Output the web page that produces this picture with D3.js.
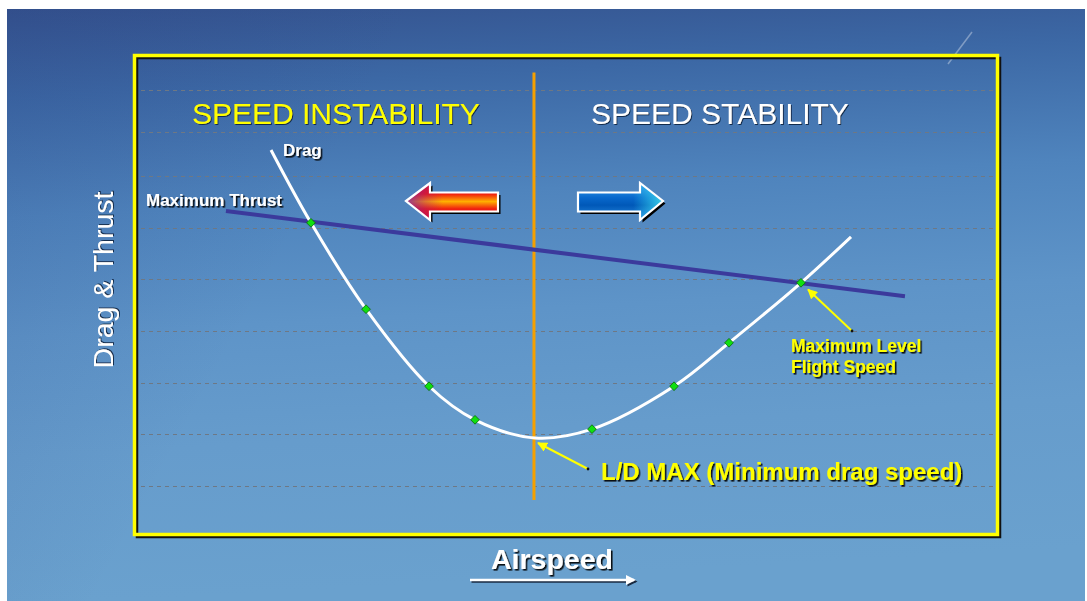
<!DOCTYPE html>
<html>
<head>
<meta charset="utf-8">
<script src="https://cdn.jsdelivr.net/npm/d3@7"></script>
<style>
html,body{margin:0;padding:0;background:#fff;}
svg{display:block;}
text{font-family:"Liberation Sans",Arial,sans-serif;}
</style>
</head>
<body>
<svg id="chart" width="1087" height="601"></svg>
<script>
// ---- data ----
const dragX = [15.76, 20.39, 26.77, 34.07, 39.40, 46.35, 52.95, 62.46, 68.83, 77.17, 82.97];
const dragY = [7.50, 6.09, 4.42, 2.93, 2.28, 1.93, 2.10, 2.93, 3.77, 4.93, 5.82];
const markerIdx = [1, 2, 3, 4, 6, 7, 8, 9];
const thrustX = [10.54, 89.22];
const thrustY = [6.32, 4.67];
const ldMaxX = 46.23;
const ldMaxYRange = [0.73, 9.0];
const gridValues = [1, 2, 3, 4, 5, 6, 7, 7.85, 8.66];
const regionLabels = ["SPEED INSTABILITY", "SPEED STABILITY"];
const axisLabels = ["Airspeed", "Drag & Thrust"];

const svg = d3.select("#chart");
const W = 1087, H = 601;

const x = d3.scaleLinear().domain([0, 100]).range([135, 998]);
const y = d3.scaleLinear().domain([0, 10]).range([537.7, 20.7]);

const defs = svg.append("defs");
// background gradient
const bg = defs.append("linearGradient").attr("id","bg").attr("x1",0).attr("y1",0).attr("x2",0.1).attr("y2",1);
[["0%","#34528e"],["15%","#3c68a5"],["35%","#4f84bd"],["55%","#5e94c8"],["75%","#669ccc"],["100%","#6aa1ce"]]
  .forEach(s=>bg.append("stop").attr("offset",s[0]).attr("stop-color",s[1]));
const bg2 = defs.append("linearGradient").attr("id","bg2").attr("x1",0).attr("y1",0).attr("x2",1).attr("y2",0.3);
bg2.append("stop").attr("offset","0%").attr("stop-color","#2a3f80").attr("stop-opacity",0.18);
bg2.append("stop").attr("offset","35%").attr("stop-color","#2a3f80").attr("stop-opacity",0);

// shadow filters
const f = defs.append("filter").attr("id","sh").attr("x","-10%").attr("y","-30%").attr("width","130%").attr("height","170%");
f.append("feDropShadow").attr("dx",1.6).attr("dy",1.6).attr("stdDeviation",0.4).attr("flood-color","#000").attr("flood-opacity",0.9);
const f2 = defs.append("filter").attr("id","sh2").attr("x","-10%").attr("y","-30%").attr("width","130%").attr("height","170%");
f2.append("feDropShadow").attr("dx",1).attr("dy",1).attr("stdDeviation",0.6).attr("flood-color","#102040").attr("flood-opacity",0.9);

// red arrow gradients
const rg = defs.append("linearGradient").attr("id","rv").attr("x1",0).attr("y1",0).attr("x2",0).attr("y2",1);
[["0%","#d0103a"],["30%","#f02010"],["50%","#ffb000"],["70%","#f02010"],["100%","#d0103a"]].forEach(s=>rg.append("stop").attr("offset",s[0]).attr("stop-color",s[1]));
const rh = defs.append("linearGradient").attr("id","rh").attr("x1",0).attr("y1",0).attr("x2",1).attr("y2",0);
rh.append("stop").attr("offset","0%").attr("stop-color","#8020a8").attr("stop-opacity",0.85);
rh.append("stop").attr("offset","22%").attr("stop-color","#a01080").attr("stop-opacity",0.35);
rh.append("stop").attr("offset","40%").attr("stop-color","#a01080").attr("stop-opacity",0);
// blue arrow gradients
const bv = defs.append("linearGradient").attr("id","bv").attr("x1",0).attr("y1",0).attr("x2",0).attr("y2",1);
[["0%","#3aa0ee"],["40%","#0868cc"],["60%","#0058b8"],["100%","#2a8ce0"]].forEach(s=>bv.append("stop").attr("offset",s[0]).attr("stop-color",s[1]));
const bh = defs.append("linearGradient").attr("id","bh").attr("x1",0).attr("y1",0).attr("x2",1).attr("y2",0);
bh.append("stop").attr("offset","65%").attr("stop-color","#30d8f0").attr("stop-opacity",0);
bh.append("stop").attr("offset","100%").attr("stop-color","#40e0f0").attr("stop-opacity",0.85);

// markers for annotation arrows
defs.append("marker").attr("id","ya").attr("viewBox","0 0 10 10").attr("refX",9).attr("refY",5)
  .attr("markerWidth",5).attr("markerHeight",5).attr("orient","auto")
  .append("path").attr("d","M0,0L10,5L0,10z").attr("fill","#ffff00");
defs.append("marker").attr("id","wa").attr("viewBox","0 0 10 10").attr("refX",8).attr("refY",5)
  .attr("markerWidth",5).attr("markerHeight",4).attr("orient","auto")
  .append("path").attr("d","M0,0L10,5L0,10z").attr("fill","#ffffff");
defs.append("marker").attr("id","ka").attr("viewBox","0 0 10 10").attr("refX",8).attr("refY",5)
  .attr("markerWidth",5).attr("markerHeight",4).attr("orient","auto")
  .append("path").attr("d","M0,0L10,5L0,10z").attr("fill","#1a2a40");

// background
svg.append("rect").attr("x",7).attr("y",9).attr("width",W-9).attr("height",H-9).attr("fill","url(#bg)");
svg.append("rect").attr("x",7).attr("y",9).attr("width",W-9).attr("height",H-9).attr("fill","url(#bg2)");
// faint contrail
svg.append("line").attr("x1",948).attr("y1",64).attr("x2",972).attr("y2",32)
  .attr("stroke","#ffffff").attr("stroke-opacity",0.35).attr("stroke-width",1.5);

// box shadow + yellow box
svg.append("rect").attr("x",137).attr("y",58).attr("width",863).attr("height",479)
  .attr("fill","none").attr("stroke","#111").attr("stroke-width",2.5);
svg.append("rect").attr("x",134.5).attr("y",55.5).attr("width",863).attr("height",479)
  .attr("fill","none").attr("stroke","#ffff00").attr("stroke-width",3.5);

// gridlines
svg.append("g").selectAll("line").data(gridValues).join("line")
  .attr("x1",141).attr("x2",995)
  .attr("y1",d=>Math.round(y(d))+0.5).attr("y2",d=>Math.round(y(d))+0.5)
  .attr("stroke","#6e7884").attr("stroke-width",1).attr("stroke-dasharray","4,4");

// L/D max vertical line
svg.append("line").attr("x1",x(ldMaxX)).attr("x2",x(ldMaxX))
  .attr("y1",y(ldMaxYRange[0])).attr("y2",y(ldMaxYRange[1]))
  .attr("stroke","#f5a000").attr("stroke-width",3);

// thrust line
svg.append("line").attr("x1",x(thrustX[0])).attr("y1",y(thrustY[0]))
  .attr("x2",x(thrustX[1])).attr("y2",y(thrustY[1]))
  .attr("stroke","#3b3a9c").attr("stroke-width",4);

// drag curve
const dragPts = dragX.map((v,i)=>[x(v), y(dragY[i])]);
svg.append("path").attr("d", d3.line().curve(d3.curveCatmullRom.alpha(0.5))(dragPts))
  .attr("fill","none").attr("stroke","#ffffff").attr("stroke-width",3);

// markers (diamonds = squares rotated 45deg)
svg.append("g").selectAll("path").data(markerIdx).join("path")
  .attr("d", d3.symbol().type(d3.symbolSquare).size(38))
  .attr("transform", i=>`translate(${x(dragX[i])},${y(dragY[i])}) rotate(45)`)
  .attr("fill","#10e010").attr("stroke","#0a6a0a").attr("stroke-width",0.8);

// red arrow (left)
const redPoly = "M406,201 L430,183 L430,192.5 L498,192.5 L498,211.5 L430,211.5 L430,220 Z";
svg.append("path").attr("d",redPoly).attr("transform","translate(2.5,2.5)").attr("fill","#000");
svg.append("path").attr("d",redPoly).attr("fill","url(#rv)");
svg.append("path").attr("d",redPoly).attr("fill","url(#rh)").attr("stroke","#ffffff").attr("stroke-width",2.2).attr("stroke-linejoin","miter");
// blue arrow (right)
const bluePoly = "M578,192.5 L640,192.5 L640,183 L663,201 L640,220 L640,211.5 L578,211.5 Z";
svg.append("path").attr("d",bluePoly).attr("transform","translate(2.5,2.5)").attr("fill","#000");
svg.append("path").attr("d",bluePoly).attr("fill","url(#bv)");
svg.append("path").attr("d",bluePoly).attr("fill","url(#bh)").attr("stroke","#ffffff").attr("stroke-width",2.2);

// region titles
svg.append("text").attr("x",192).attr("y",124).attr("font-size",30).attr("fill","#ffff00")
  .attr("filter","url(#sh2)").text(regionLabels[0]);
svg.append("text").attr("x",591).attr("y",124).attr("font-size",30).attr("fill","#ffffff")
  .attr("filter","url(#sh2)").text(regionLabels[1]);

// curve labels
svg.append("text").attr("x",283).attr("y",156).attr("font-size",17).attr("font-weight","bold")
  .attr("fill","#fff").attr("filter","url(#sh)").text("Drag");
svg.append("text").attr("x",146).attr("y",206).attr("font-size",17).attr("font-weight","bold")
  .attr("fill","#fff").attr("filter","url(#sh)").text("Maximum Thrust");

// max level flight speed annotation
svg.append("line").attr("x1",852).attr("y1",331).attr("x2",808).attr("y2",289.5)
  .attr("stroke","#ffff00").attr("stroke-width",2).attr("marker-end","url(#ya)");
svg.append("circle").attr("cx",852).attr("cy",331).attr("r",1.4).attr("fill","#111");
svg.append("text").attr("x",791).attr("y",352).attr("font-size",17.5).attr("font-weight","bold")
  .attr("fill","#ffff00").attr("filter","url(#sh)").text("Maximum Level");
svg.append("text").attr("x",791).attr("y",373).attr("font-size",17.5).attr("font-weight","bold")
  .attr("fill","#ffff00").attr("filter","url(#sh)").text("Flight Speed");

// L/D max annotation
svg.append("line").attr("x1",588).attr("y1",469).attr("x2",538).attr("y2",443)
  .attr("stroke","#ffff00").attr("stroke-width",2).attr("marker-end","url(#ya)");
svg.append("circle").attr("cx",588).attr("cy",469).attr("r",1.4).attr("fill","#111");
svg.append("text").attr("x",601).attr("y",480).attr("font-size",24).attr("font-weight","bold")
  .attr("fill","#ffff00").attr("filter","url(#sh)").text("L/D MAX (Minimum drag speed)");

// axis titles
svg.append("text").attr("x",491).attr("y",569).attr("font-size",28.5).attr("font-weight","bold")
  .attr("fill","#fff").attr("filter","url(#sh)").text(axisLabels[0]);
// airspeed arrow: shadow copy then white
svg.append("line").attr("x1",471.5).attr("y1",581.5).attr("x2",635.5).attr("y2",581.5)
  .attr("stroke","#1a2a40").attr("stroke-width",2.5).attr("marker-end","url(#ka)");
svg.append("line").attr("x1",470).attr("y1",580).attr("x2",634).attr("y2",580)
  .attr("stroke","#fff").attr("stroke-width",2.5).attr("marker-end","url(#wa)");
svg.append("text").attr("transform","translate(113,280) rotate(-90)").attr("text-anchor","middle")
  .attr("font-size",28.5).attr("fill","#fff").attr("filter","url(#sh2)").text(axisLabels[1]);
</script>
</body>
</html>
